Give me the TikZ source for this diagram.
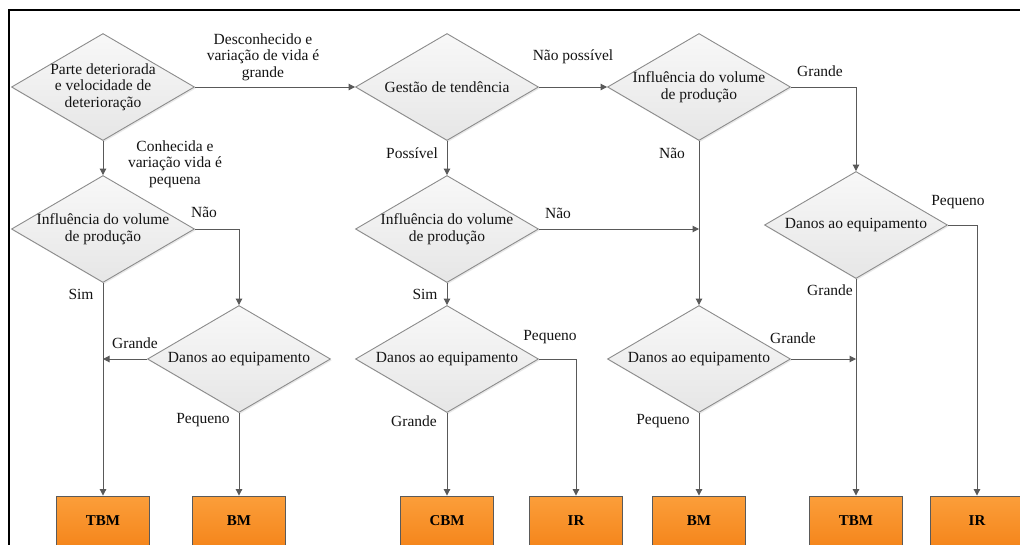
\documentclass[tikz,border=0pt]{standalone}
\usepackage{fontspec}
\setmainfont{Liberation Serif}
\newfontfamily\chartfont{Liberation Serif}
\usetikzlibrary{shapes.geometric,arrows.meta,shadows}
\definecolor{linec}{HTML}{595959}
\definecolor{dborder}{HTML}{8C8C8C}
\definecolor{dtop}{HTML}{F8F8F8}
\definecolor{dbot}{HTML}{E6E6E6}
\definecolor{otop}{HTML}{FB9E3A}
\definecolor{obot}{HTML}{F5861C}
\definecolor{oborder}{HTML}{5A5A5A}
\definecolor{txt}{HTML}{141414}

\begin{document}
\begin{tikzpicture}[x=1pt,y=-1pt,
  every node/.style={font=\chartfont\fontsize{15.5}{16.5}\selectfont, text=txt},
  decision/.style={diamond, draw=dborder, line width=0.9pt,
    top color=dtop, bottom color=dbot,
    drop shadow={opacity=0.18, shadow xshift=1.2pt, shadow yshift=-1.5pt},
    minimum width=183pt, minimum height=107pt, inner sep=0pt},
  dtext/.style={align=center, inner sep=0pt},
  outcome/.style={rectangle, draw=oborder, line width=0.9pt,
    top color=otop, bottom color=obot,
    minimum width=93pt, minimum height=50pt,
    font=\chartfont\fontsize{15}{18}\selectfont\bfseries, text=black},
  lbl/.style={align=center, inner sep=0pt},
  flow/.style={draw=linec, line width=1pt, -{Triangle[width=6.5pt,length=6.5pt]}}
]
\useasboundingbox (0,0) rectangle (1020,544);
\clip (0,0) rectangle (1020,544);
\fill[white] (0,0) rectangle (1020,544);

% outer frame
\draw[line width=2pt, black] (9,560) -- (9,10) -- (1040,10);

% decisions
\node[decision] (d1) at (103,87)  {};
\node[decision] (d2) at (103,229) {};
\node[decision] (d3) at (239,359) {};
\node[decision] (g)  at (447,87)  {};
\node[decision] (d6) at (447,229) {};
\node[decision] (d8) at (447,359) {};
\node[decision] (d4) at (699,87)  {};
\node[decision] (d7) at (699,359) {};
\node[decision] (d5) at (856,225) {};

\node[dtext] (d1t) at (d1) {Parte deteriorada\\e velocidade de\\deterioração};
\node[dtext] (d2t) at (d2) {Influência do volume\\de produção};
\node[dtext] (d3t) at (d3) {Danos ao equipamento};
\node[dtext] (gt)  at (g)  {Gestão de tendência};
\node[dtext] (d6t) at (d6) {Influência do volume\\de produção};
\node[dtext] (d8t) at (d8) {Danos ao equipamento};
\node[dtext] (d4t) at (d4) {Influência do volume\\de produção};
\node[dtext] (d7t) at (d7) {Danos ao equipamento};
\node[dtext] (d5t) at (d5) {Danos ao equipamento};

% outcomes
\node[outcome] (tbm1) at (103,521) {TBM};
\node[outcome] (bm1)  at (239,521) {BM};
\node[outcome] (cbm)  at (447,521) {CBM};
\node[outcome] (ir1)  at (576,521) {IR};
\node[outcome] (bm2)  at (699,521) {BM};
\node[outcome] (tbm2) at (856,521) {TBM};
\node[outcome] (ir2)  at (977,521) {IR};

% connectors
\draw[flow] (d1.east) -- (g.west);
\draw[flow] (d1.south) -- (d2.north);
\draw[flow] (d2.east) -| (d3.north);
\draw[flow] (d2.south) -- (tbm1.north);
\draw[flow] (d3.west) -- (d3.west -| d2.south);
\draw[flow] (d3.south) -- (bm1.north);

\draw[flow] (g.east) -- (d4.west);
\draw[flow] (g.south) -- (d6.north);
\draw[flow] (d6.east) -- (d6.east -| d4.south);
\draw[flow] (d6.south) -- (d8.north);
\draw[flow] (d8.south) -- (cbm.north);
\draw[flow] (d8.east) -| (ir1.north);

\draw[flow] (d4.east) -| (d5.north);
\draw[flow] (d4.south) -- (d7.north);
\draw[flow] (d7.south) -- (bm2.north);
\draw[flow] (d7.east) -- (d7.east -| d5.south);
\draw[flow] (d5.south) -- (tbm2.north);
\draw[flow] (d5.east) -| (ir2.north);

% branch labels
\node[lbl] (l1)  at (263,57)  {Desconhecido e\\variação de vida é\\grande};
\node[lbl] (l2)  at (175,164) {Conhecida e\\variação vida é\\pequena};
\node[lbl] (l3)  at (204,212) {Não};
\node[lbl] (l4)  at (81,294)  {Sim};
\node[lbl] (l5)  at (135,343) {Grande};
\node[lbl] (l6)  at (203,420) {Pequeno};
\node[lbl] (l7)  at (573,57)  {Não possível};
\node[lbl] (l8)  at (412,153) {Possível};
\node[lbl] (l9)  at (558,213) {Não};
\node[lbl] (l10) at (425,294) {Sim};
\node[lbl] (l11) at (550,337) {Pequeno};
\node[lbl] (l12) at (414,421) {Grande};
\node[lbl] (l13) at (820,71)  {Grande};
\node[lbl] (l14) at (672,153) {Não};
\node[lbl] (l15) at (793,338) {Grande};
\node[lbl] (l16) at (663,421) {Pequeno};
\node[lbl] (l17) at (958,202) {Pequeno};
\node[lbl] (l18) at (830,290) {Grande};
\end{tikzpicture}
\end{document}
